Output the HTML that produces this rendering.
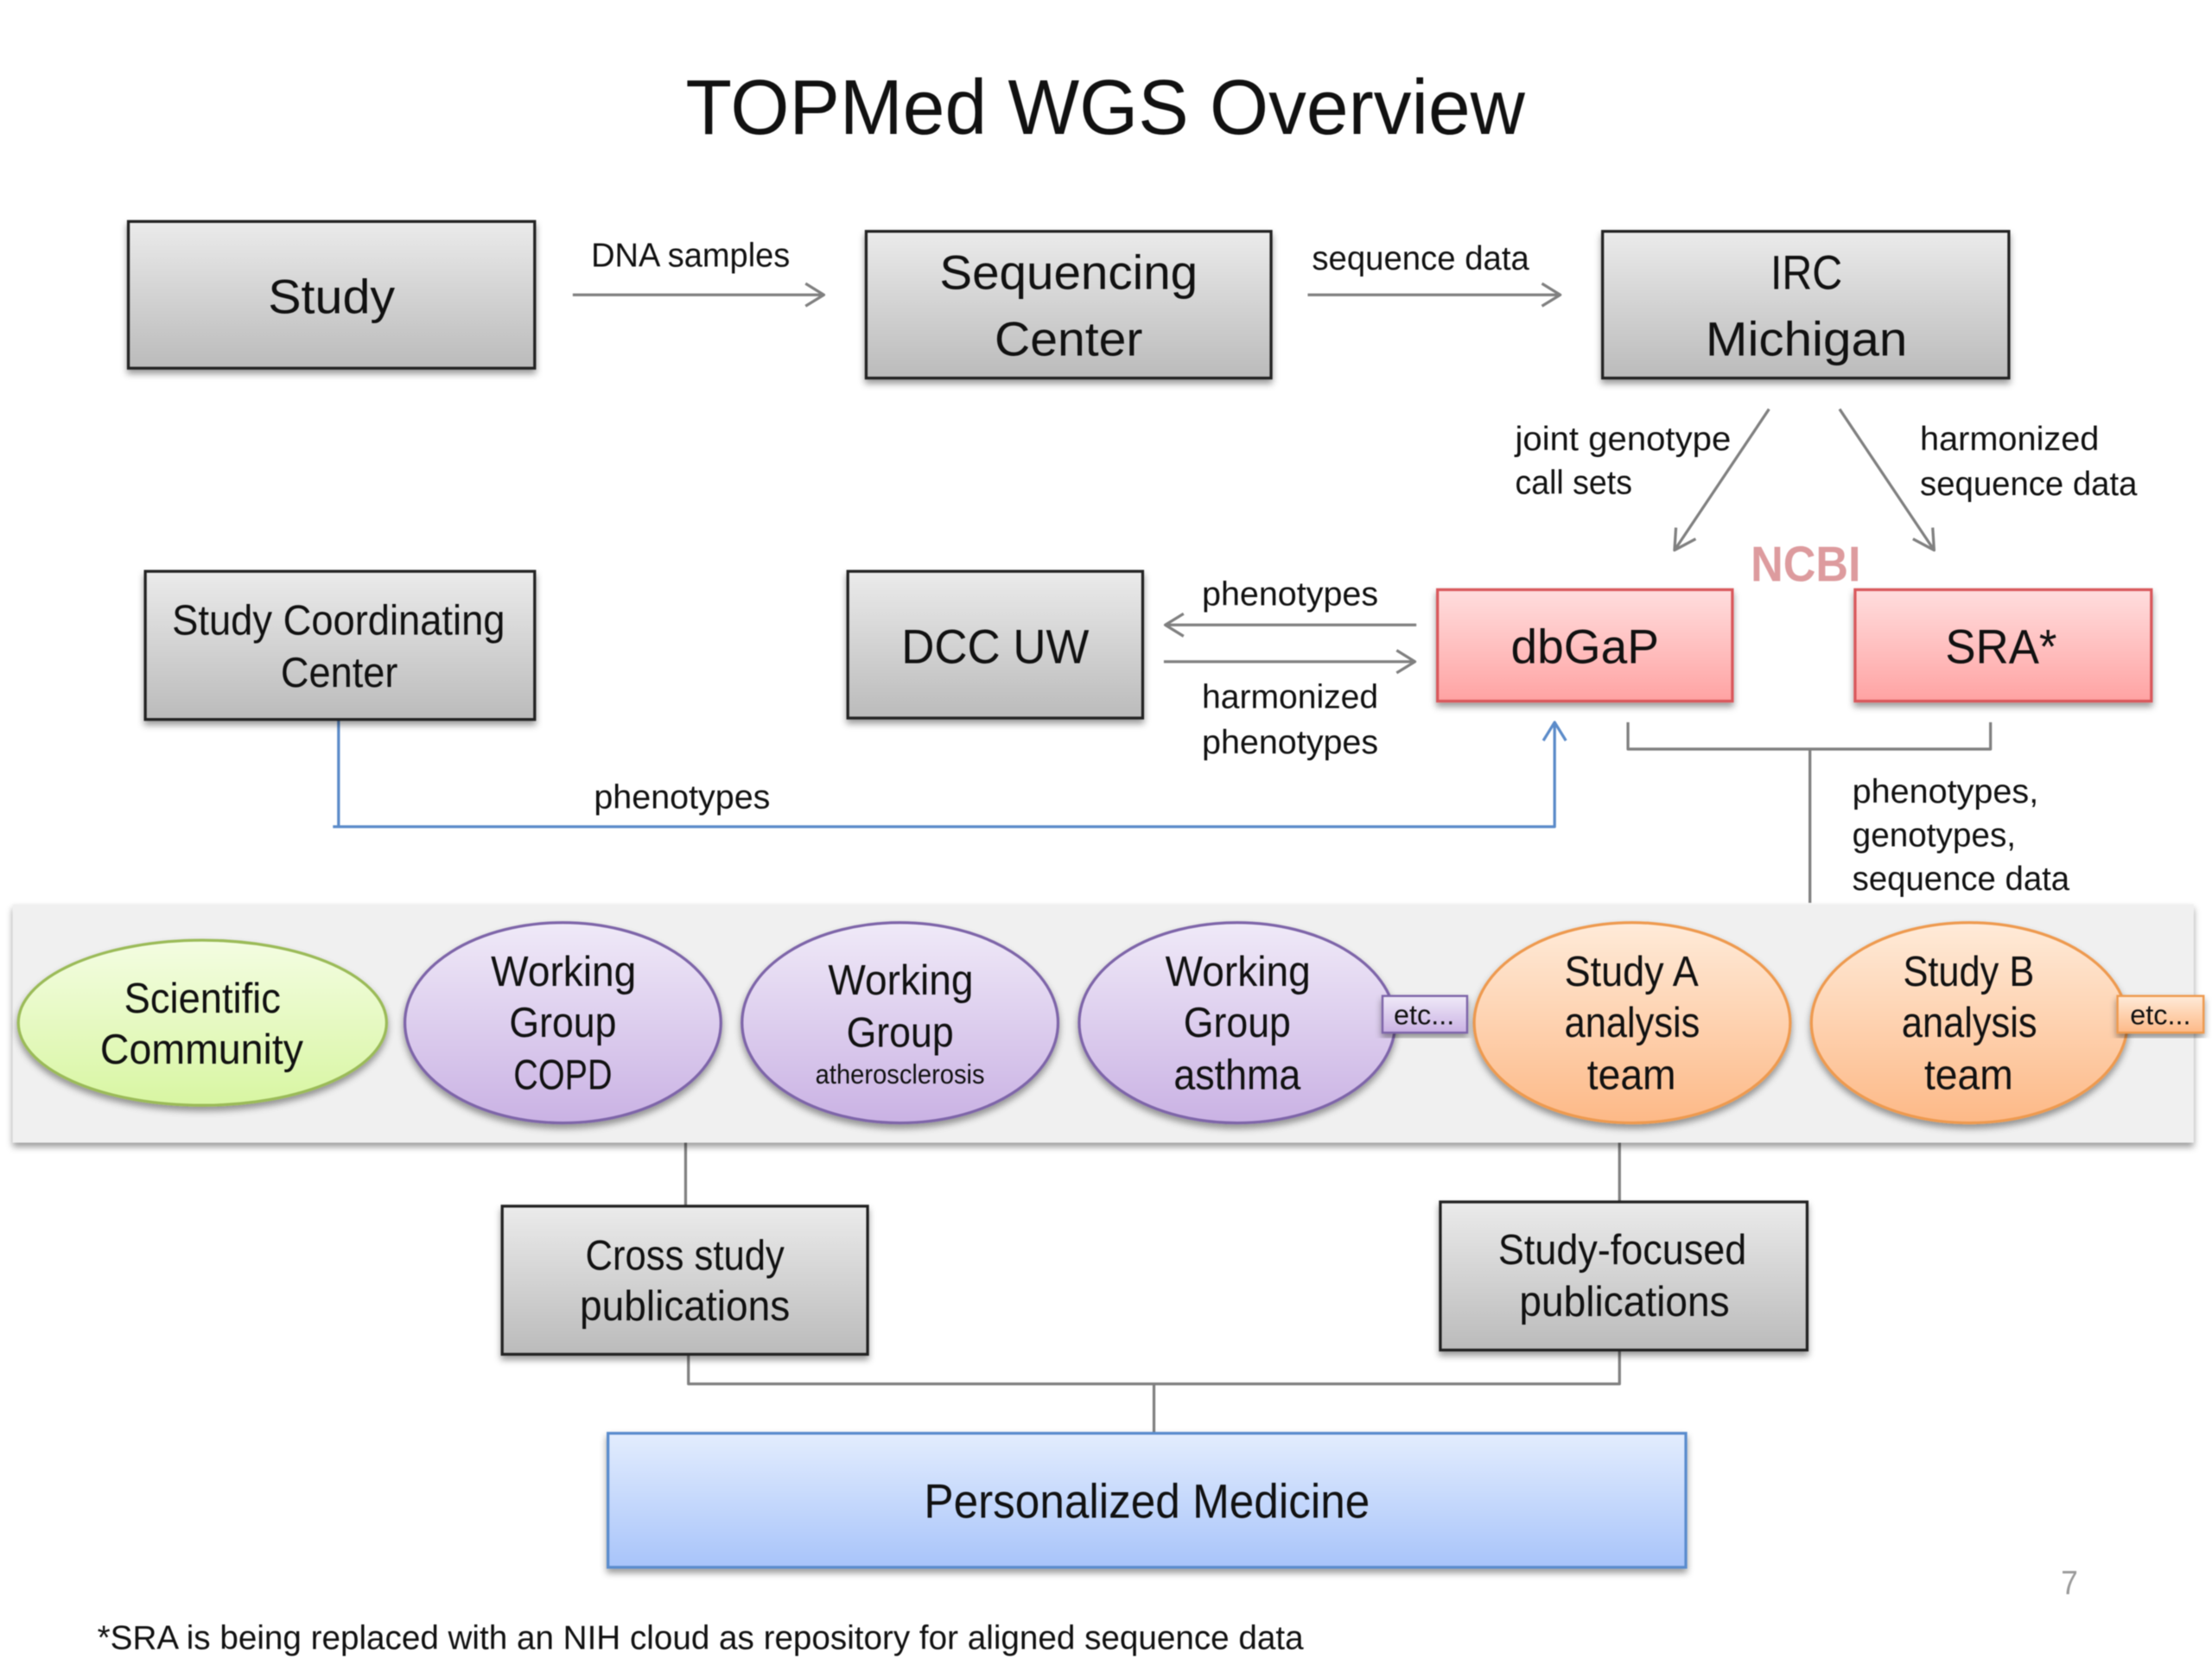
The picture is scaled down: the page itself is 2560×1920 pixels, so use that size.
<!DOCTYPE html>
<html><head><meta charset="utf-8"><title>TOPMed WGS Overview</title>
<style>
html,body{margin:0;padding:0;background:#fff;width:2560px;height:1920px;overflow:hidden}
svg{display:block;filter:blur(0.6px)}
text{font-family:"Liberation Sans",sans-serif;fill:#111}
.l{font-size:34px}.m{font-size:30px}.s{font-size:24px}
.ln{fill:none;stroke:#808080;stroke-width:2;stroke-linejoin:round}
</style></head><body>
<svg xmlns="http://www.w3.org/2000/svg" width="2560" height="1920" viewBox="0 0 1568 1176">
<defs>
<linearGradient id="g" x1="0" y1="0" x2="0" y2="1"><stop offset="0" stop-color="#ebebeb"/><stop offset="1" stop-color="#bbbbbb"/></linearGradient>
<linearGradient id="r" x1="0" y1="0" x2="0" y2="1"><stop offset="0" stop-color="#ffdede"/><stop offset="1" stop-color="#ffa3a3"/></linearGradient>
<linearGradient id="b" x1="0" y1="0" x2="0" y2="1"><stop offset="0" stop-color="#e3edfe"/><stop offset="1" stop-color="#a8c4fa"/></linearGradient>
<linearGradient id="p" x1="0" y1="0" x2="0" y2="1"><stop offset="0" stop-color="#f0eaf8"/><stop offset="1" stop-color="#cab2e4"/></linearGradient>
<linearGradient id="o" x1="0" y1="0" x2="0" y2="1"><stop offset="0" stop-color="#ffebd9"/><stop offset="1" stop-color="#fdb987"/></linearGradient>
<linearGradient id="v" x1="0" y1="0" x2="0" y2="1"><stop offset="0" stop-color="#f4fde2"/><stop offset="1" stop-color="#d8f6a2"/></linearGradient>
<filter id="sh" x="-10%" y="-10%" width="120%" height="125%"><feDropShadow dx="0" dy="3" stdDeviation="2.5" flood-color="#000" flood-opacity=".4"/></filter>
</defs>
<rect width="1568" height="1176" fill="#fff"/>

<text x="486" y="95" font-size="55" textLength="595" lengthAdjust="spacingAndGlyphs">TOPMed WGS Overview</text>

<!-- connectors -->
<path class="ln" d="M406 209H584M571 201l13 8l-13 8"/>
<path class="ln" d="M927 209H1106M1093 201l13 8l-13 8"/>
<path class="ln" d="M1254 290L1187 390M1188 374l-1 16l15-8"/>
<path class="ln" d="M1304 290L1371 390M1370 374l1 16l-15-8"/>
<path class="ln" d="M1004 443H826M839 435l-13 8l13 8"/>
<path class="ln" d="M825 469H1003M990 461l13 8l-13 8"/>
<path class="ln" d="M1154 512V531H1411V512M1283 531V640"/>
<path fill="none" stroke="#5b8bc9" stroke-width="2" stroke-linejoin="round" d="M240 510V586M236 586H1102V512M1094 525l8-13l8 13"/>
<path class="ln" d="M486 810V855M1148 810V852M488 960V981H1148V957M818 981V1016"/>

<!-- gray boxes -->
<g fill="url(#g)" stroke="#222" stroke-width="2" filter="url(#sh)">
<rect x="91" y="157" width="288" height="104"/>
<rect x="614" y="164" width="287" height="104"/>
<rect x="1136" y="164" width="288" height="104"/>
<rect x="103" y="405" width="276" height="105"/>
<rect x="601" y="405" width="209" height="104"/>
<rect x="356" y="855" width="259" height="105"/>
<rect x="1021" y="852" width="260" height="105"/>
</g>
<g fill="url(#r)" stroke="#d9595b" stroke-width="2" filter="url(#sh)">
<rect x="1019" y="418" width="209" height="79"/>
<rect x="1315" y="418" width="210" height="79"/>
</g>
<rect x="431" y="1016" width="764" height="95" fill="url(#b)" stroke="#5a8ccd" stroke-width="2" filter="url(#sh)"/>

<!-- band -->
<rect x="9" y="641" width="1546" height="169" fill="#f0f0f0" filter="url(#sh)"/>
<ellipse cx="143.500" cy="725" rx="130.500" ry="58.500" fill="url(#v)" stroke="#9bbb59" stroke-width="2" filter="url(#sh)"/>
<g fill="url(#p)" stroke="#7e65a9" stroke-width="2" filter="url(#sh)">
<ellipse cx="399" cy="725" rx="112" ry="71"/>
<ellipse cx="638" cy="725" rx="112" ry="71"/>
<ellipse cx="877" cy="725" rx="112" ry="71"/>
</g>
<g fill="url(#o)" stroke="#ee9a50" stroke-width="2" filter="url(#sh)">
<ellipse cx="1157" cy="725" rx="112" ry="71"/>
<ellipse cx="1396" cy="725" rx="112" ry="71"/>
</g>
<rect x="980" y="706" width="60" height="26" fill="url(#p)" stroke="#7e65a9" stroke-width="1.500" filter="url(#sh)"/>
<rect x="1501" y="706" width="61" height="26" fill="url(#o)" stroke="#ee9a50" stroke-width="1.500" filter="url(#sh)"/>

<!-- box labels -->
<text class="l" x="190" y="222" textLength="90" lengthAdjust="spacingAndGlyphs">Study</text>
<text class="l" x="666" y="205" textLength="183" lengthAdjust="spacingAndGlyphs">Sequencing</text>
<text class="l" x="705" y="252" textLength="105" lengthAdjust="spacingAndGlyphs">Center</text>
<text class="l" x="1255" y="205" textLength="51" lengthAdjust="spacingAndGlyphs">IRC</text>
<text class="l" x="1209" y="252" textLength="143" lengthAdjust="spacingAndGlyphs">Michigan</text>
<text class="m" x="122" y="450" font-size="29" textLength="236" lengthAdjust="spacingAndGlyphs">Study Coordinating</text>
<text class="m" x="199" y="487" textLength="83" lengthAdjust="spacingAndGlyphs">Center</text>
<text class="l" x="639" y="470" textLength="133" lengthAdjust="spacingAndGlyphs">DCC UW</text>
<text class="l" x="1071" y="470" textLength="105" lengthAdjust="spacingAndGlyphs">dbGaP</text>
<text class="l" x="1379" y="470" textLength="79" lengthAdjust="spacingAndGlyphs">SRA*</text>
<text x="1241" y="412" font-size="35" font-weight="700" style="fill:#dd9b9e" textLength="78" lengthAdjust="spacingAndGlyphs">NCBI</text>

<!-- connector labels -->
<text class="s" x="419" y="189" textLength="141" lengthAdjust="spacingAndGlyphs">DNA samples</text>
<text class="s" x="930" y="191" textLength="154" lengthAdjust="spacingAndGlyphs">sequence data</text>
<text class="s" x="1074" y="319" textLength="153" lengthAdjust="spacingAndGlyphs">joint genotype</text>
<text class="s" x="1074" y="350" textLength="83" lengthAdjust="spacingAndGlyphs">call sets</text>
<text class="s" x="1361" y="319" textLength="127" lengthAdjust="spacingAndGlyphs">harmonized</text>
<text class="s" x="1361" y="351" textLength="154" lengthAdjust="spacingAndGlyphs">sequence data</text>
<text class="s" x="852" y="429" textLength="125" lengthAdjust="spacingAndGlyphs">phenotypes</text>
<text class="s" x="852" y="502" textLength="125" lengthAdjust="spacingAndGlyphs">harmonized</text>
<text class="s" x="852" y="534" textLength="125" lengthAdjust="spacingAndGlyphs">phenotypes</text>
<text class="s" x="421" y="573" textLength="125" lengthAdjust="spacingAndGlyphs">phenotypes</text>
<text class="s" x="1313" y="569" textLength="132" lengthAdjust="spacingAndGlyphs">phenotypes,</text>
<text class="s" x="1313" y="600" textLength="116" lengthAdjust="spacingAndGlyphs">genotypes,</text>
<text class="s" x="1313" y="631" textLength="154" lengthAdjust="spacingAndGlyphs">sequence data</text>

<!-- ellipse labels -->
<text class="m" x="88" y="718" textLength="111" lengthAdjust="spacingAndGlyphs">Scientific</text>
<text class="m" x="71" y="754" textLength="144" lengthAdjust="spacingAndGlyphs">Community</text>
<text class="m" x="348" y="699" textLength="103" lengthAdjust="spacingAndGlyphs">Working</text>
<text class="m" x="361" y="735" textLength="76" lengthAdjust="spacingAndGlyphs">Group</text>
<text class="m" x="364" y="772" textLength="70" lengthAdjust="spacingAndGlyphs">COPD</text>
<text class="m" x="587" y="705" textLength="103" lengthAdjust="spacingAndGlyphs">Working</text>
<text class="m" x="600" y="742" textLength="76" lengthAdjust="spacingAndGlyphs">Group</text>
<text x="578" y="768" font-size="19" textLength="120" lengthAdjust="spacingAndGlyphs">atherosclerosis</text>
<text class="m" x="826" y="699" textLength="103" lengthAdjust="spacingAndGlyphs">Working</text>
<text class="m" x="839" y="735" textLength="76" lengthAdjust="spacingAndGlyphs">Group</text>
<text class="m" x="832" y="772" textLength="90" lengthAdjust="spacingAndGlyphs">asthma</text>
<text class="m" x="1109" y="699" textLength="95" lengthAdjust="spacingAndGlyphs">Study A</text>
<text class="m" x="1109" y="735" textLength="96" lengthAdjust="spacingAndGlyphs">analysis</text>
<text class="m" x="1125" y="772" textLength="63" lengthAdjust="spacingAndGlyphs">team</text>
<text class="m" x="1349" y="699" textLength="93" lengthAdjust="spacingAndGlyphs">Study B</text>
<text class="m" x="1348" y="735" textLength="96" lengthAdjust="spacingAndGlyphs">analysis</text>
<text class="m" x="1364" y="772" textLength="63" lengthAdjust="spacingAndGlyphs">team</text>
<text x="988" y="726" font-size="20" textLength="43" lengthAdjust="spacingAndGlyphs">etc...</text>
<text x="1510" y="726" font-size="20" textLength="43" lengthAdjust="spacingAndGlyphs">etc...</text>

<!-- lower boxes -->
<text class="m" x="415" y="900" font-size="29" textLength="141" lengthAdjust="spacingAndGlyphs">Cross study</text>
<text class="m" x="411" y="936" textLength="149" lengthAdjust="spacingAndGlyphs">publications</text>
<text class="m" x="1062" y="896" textLength="176" lengthAdjust="spacingAndGlyphs">Study-focused</text>
<text class="m" x="1077" y="933" textLength="149" lengthAdjust="spacingAndGlyphs">publications</text>
<text class="l" x="655" y="1076" font-size="32" textLength="316" lengthAdjust="spacingAndGlyphs">Personalized Medicine</text>

<text x="1461" y="1130" font-size="24" style="fill:#9a9a9a" textLength="12" lengthAdjust="spacingAndGlyphs">7</text>
<text class="s" x="69" y="1169" textLength="855" lengthAdjust="spacingAndGlyphs">*SRA is being replaced with an NIH cloud as repository for aligned sequence data</text>
</svg>
</body></html>
